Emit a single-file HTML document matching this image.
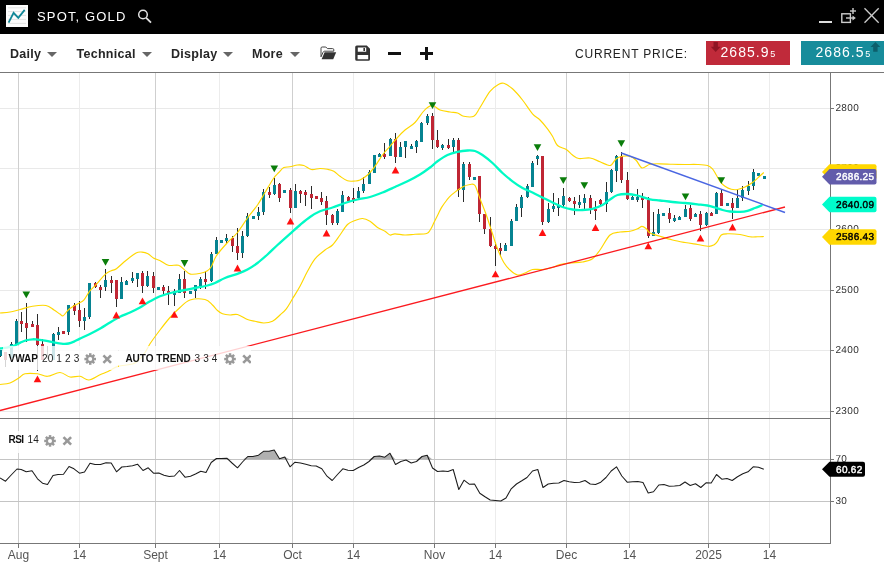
<!DOCTYPE html>
<html lang="en">
<head>
<meta charset="utf-8">
<title>SPOT, GOLD</title>
<style>
html,body{margin:0;padding:0;background:#fff;}
body{width:884px;height:566px;overflow:hidden;position:relative;font-family:"Liberation Sans",Arial,sans-serif;}
#titlebar{position:absolute;left:0;top:0;width:884px;height:34px;background:#000;}
#titlebar .logo{position:absolute;left:6px;top:5px;width:22px;height:22px;}
#titlebar .name{position:absolute;left:37px;top:9px;font-size:13px;line-height:16px;color:#fff;letter-spacing:1.15px;white-space:nowrap;}
#titlebar svg.ic{position:absolute;top:0;}
#toolbar{position:absolute;left:0;top:34px;width:884px;height:38px;background:#fff;border-bottom:1px solid #777;}
.menu{position:absolute;top:12px;font-size:12.5px;line-height:16px;font-weight:bold;color:#262626;letter-spacing:0.28px;white-space:nowrap;}
.caret{position:absolute;top:18px;width:0;height:0;border-left:5px solid transparent;border-right:5px solid transparent;border-top:5.5px solid #666;}
#toolbar svg{position:absolute;left:0;top:0;}
.cp{position:absolute;left:575px;top:12px;font-size:12px;line-height:16px;color:#222;letter-spacing:0.8px;white-space:nowrap;}
.btn{position:absolute;top:7px;height:24px;color:#fff;font-size:14px;line-height:22px;letter-spacing:1.05px;white-space:nowrap;}
.btn small{font-size:9px;letter-spacing:0;margin-left:0.6px;}
#sell{left:706px;width:84px;background:#c02a3a;}
#buy{left:801px;width:83px;background:#178c9b;}
.btn span{position:absolute;top:0;}
#chart{position:absolute;left:0;top:0;width:884px;height:566px;}
.legend{position:absolute;background:rgba(255,255,255,0.8);font-size:10px;line-height:12px;color:#222;white-space:nowrap;}
.legend span{position:absolute;}
.legend .lb{font-weight:bold;color:#111;}
.legend .lp{letter-spacing:0.15px;color:#222;}
</style>
</head>
<body>
<svg id="chart" width="884" height="566" viewBox="0 0 884 566">
<g shape-rendering="crispEdges">
<rect x="0" y="108" width="830" height="1" fill="#e9e9e9"/>
<rect x="0" y="168" width="830" height="1" fill="#e9e9e9"/>
<rect x="0" y="229" width="830" height="1" fill="#e9e9e9"/>
<rect x="0" y="290" width="830" height="1" fill="#e9e9e9"/>
<rect x="0" y="350" width="830" height="1" fill="#e9e9e9"/>
<rect x="0" y="411" width="830" height="1" fill="#e9e9e9"/>
<rect x="79" y="73" width="1" height="470" fill="#ececec"/>
<rect x="219" y="73" width="1" height="470" fill="#ececec"/>
<rect x="353" y="73" width="1" height="470" fill="#ececec"/>
<rect x="495" y="73" width="1" height="470" fill="#ececec"/>
<rect x="629" y="73" width="1" height="470" fill="#ececec"/>
<rect x="769" y="73" width="1" height="470" fill="#ececec"/>
<rect x="18" y="73" width="1" height="470" fill="#cfcfcf"/>
<rect x="155" y="73" width="1" height="470" fill="#cfcfcf"/>
<rect x="292" y="73" width="1" height="470" fill="#cfcfcf"/>
<rect x="434" y="73" width="1" height="470" fill="#cfcfcf"/>
<rect x="566" y="73" width="1" height="470" fill="#cfcfcf"/>
<rect x="708" y="73" width="1" height="470" fill="#cfcfcf"/>
<rect x="0" y="459" width="830" height="1" fill="#c4c4c4"/>
<rect x="0" y="501" width="830" height="1" fill="#c4c4c4"/>
</g>
<polygon points="0,459.5 0,459.5 5.5,459.5 11.2,459.5 17,459.5 21.2,459.5 26.2,459.5 32,459.5 37.5,459.5 42.5,459.5 47.5,459.5 53,459.5 58,459.5 63.5,459.5 69,459.5 74,459.5 79.5,459.5 84.5,459.5 90,459.5 95,459.5 100.5,459.5 106,459.5 111.2,459.5 116.5,459.5 121.8,459.5 127,459.5 132.5,459.5 137.5,459.5 143,459.5 148.2,459.5 153.5,459.5 158.8,459.5 164,459.5 169.2,459.5 174.5,459.5 179.5,459.5 185,459.5 190.5,459.5 195.5,459.5 200.8,459.5 206,459.5 211.2,459.5 216.5,458.5 221.2,458.5 226.8,458.2 232,459.5 237.5,459.5 242.5,459.5 247.8,456.5 253,456.5 258.5,455.2 263.8,451.2 269,451.2 274.2,450 279.5,458.8 284.8,457 290,459.5 295,459.5 300.5,459.5 305.8,459.5 311.2,459.5 316.2,459.5 321.8,459.5 327,459.5 332.2,459.5 337.5,459.5 342.8,459.5 348,459.5 353.2,459.5 358.5,459.5 363.8,459.5 369,459.5 374.2,456.5 379.5,456 384.8,457.2 390,453.2 395.5,459.5 400.8,459.5 406,459.5 411.2,459.5 416.5,459.5 422,456.5 427.2,455.2 432.5,459.5 437.5,459.5 443,459.5 448,459.5 453.2,459.5 458.8,459.5 464,459.5 469.2,459.5 474.5,459.5 479.8,459.5 485,459.5 490.2,459.5 495.5,459.5 500.8,459.5 506,459.5 511.2,459.5 516.5,459.5 521.8,459.5 527,459.5 532.5,459.5 537.8,459.5 543,459.5 548.2,459.5 553.5,459.5 558.8,459.5 564,459.5 569.2,459.5 574.5,459.5 579.8,459.5 585,459.5 590.2,459.5 595.5,459.5 600.8,459.5 606,459.5 611.2,459.5 616.5,459.5 621.8,459.5 627.2,459.5 632.5,459.5 637.8,459.5 643,459.5 648.2,459.5 653.5,459.5 658.8,459.5 664,459.5 669.2,459.5 674.5,459.5 679.8,459.5 685,459.5 690.2,459.5 695.5,459.5 700.8,459.5 706,459.5 711.2,459.5 716.5,459.5 721.8,459.5 727,459.5 732.2,459.5 737.5,459.5 742.8,459.5 748,459.5 753.2,459.5 758.5,459.5 763.8,459.5 763.8,459.5" fill="#b0b0b0"/>
<polyline points="0,478 5.5,481.2 11.2,475 17,469 21.2,469.5 26.2,471.8 32,470.8 37.5,478.8 42.5,483.2 47.5,484.5 53,475.5 58,474.5 63.5,474.2 69,466.5 74,468.8 79.5,473.2 84.5,472 90,463.2 95,464.5 100.5,464.5 106,462.8 111.2,463 116.5,471.8 121.8,467 127,466.5 132.5,465.8 137.5,464.2 143,470.5 148.2,467.8 153.5,473.2 158.8,473 164,475.2 169.2,476.5 174.5,476 179.5,470.5 185,477.2 190.5,476.2 195.5,474 200.8,471.2 206,472.5 211.2,462.5 216.5,458.5 221.2,458.5 226.8,458.2 232,463 237.5,467.8 242.5,462 247.8,456.5 253,456.5 258.5,455.2 263.8,451.2 269,451.2 274.2,450 279.5,458.8 284.8,457 290,466.8 295,462.2 300.5,463 305.8,464.2 311.2,465.8 316.2,466 321.8,468.8 327,476.2 332.2,480.5 337.5,474.5 342.8,468.8 348,470.2 353.2,470.5 358.5,467.5 363.8,465 369,461.5 374.2,456.5 379.5,456 384.8,457.2 390,453.2 395.5,464.5 400.8,461.5 406,460 411.2,463 416.5,461.5 422,456.5 427.2,455.2 432.5,468 437.5,471.5 443,471 448,471.5 453.2,469.5 458.8,489.5 464,480.2 469.2,484.2 474.5,484 479.8,493.2 485,496.8 490.2,500 495.5,500.5 500.8,501 506,498 511.2,488.8 516.5,484 521.8,480.8 527,477.5 532.5,471 537.8,469.5 543,487.5 548.2,484 553.5,483.2 558.8,483 564,480.5 569.2,481.8 574.5,482.5 579.8,482.2 585,480.5 590.2,484 595.5,484.5 600.8,482.2 606,477.5 611.2,471 616.5,466.8 621.8,476 627.2,482.2 632.5,481.8 637.8,481.5 643,482.5 648.2,493 653.5,491.8 658.8,485 664,484.5 669.2,486.2 674.5,486 679.8,485.5 685,482 690.2,485.5 695.5,483.8 700.8,487.5 706,482.8 711.2,483 716.5,474.5 721.8,479.2 727,478.5 732.2,480.5 737.5,476.8 742.8,473.8 748,471.8 753.2,466.8 758.5,467.2 763.8,469.2" fill="none" stroke="#1c1c1c" stroke-width="1.05" stroke-linejoin="round"/>
<g shape-rendering="crispEdges">
<rect x="0" y="350" width="1" height="7" fill="#2b2b2b"/>
<rect x="-1" y="350" width="3" height="6" fill="#068391"/>
<rect x="5" y="352" width="1" height="15" fill="#2b2b2b"/>
<rect x="4" y="352" width="3" height="8" fill="#bf2634"/>
<rect x="11" y="342" width="1" height="16" fill="#2b2b2b"/>
<rect x="10" y="344" width="3" height="14" fill="#068391"/>
<rect x="16" y="319" width="1" height="26" fill="#2b2b2b"/>
<rect x="15" y="321" width="3" height="24" fill="#068391"/>
<rect x="21" y="312" width="1" height="20" fill="#2b2b2b"/>
<rect x="20" y="321" width="3" height="3" fill="#bf2634"/>
<rect x="26" y="303" width="1" height="39" fill="#2b2b2b"/>
<rect x="25" y="323" width="3" height="5" fill="#bf2634"/>
<rect x="32" y="321" width="1" height="6" fill="#2b2b2b"/>
<rect x="31" y="324" width="3" height="3" fill="#bf2634"/>
<rect x="37" y="314" width="1" height="57" fill="#2b2b2b"/>
<rect x="36" y="325" width="3" height="20" fill="#bf2634"/>
<rect x="42" y="339" width="1" height="21" fill="#2b2b2b"/>
<rect x="41" y="344" width="3" height="16" fill="#bf2634"/>
<rect x="47" y="346" width="1" height="13" fill="#2b2b2b"/>
<rect x="53" y="333" width="1" height="27" fill="#2b2b2b"/>
<rect x="52" y="334" width="3" height="26" fill="#068391"/>
<rect x="58" y="327" width="1" height="13" fill="#2b2b2b"/>
<rect x="57" y="332" width="3" height="3" fill="#068391"/>
<rect x="63" y="331" width="1" height="3" fill="#2b2b2b"/>
<rect x="62" y="331" width="3" height="3" fill="#bf2634"/>
<rect x="68" y="305" width="1" height="30" fill="#2b2b2b"/>
<rect x="67" y="305" width="3" height="27" fill="#068391"/>
<rect x="74" y="303" width="1" height="12" fill="#2b2b2b"/>
<rect x="73" y="305" width="3" height="6" fill="#bf2634"/>
<rect x="79" y="301" width="1" height="26" fill="#2b2b2b"/>
<rect x="78" y="310" width="3" height="11" fill="#bf2634"/>
<rect x="84" y="308" width="1" height="22" fill="#2b2b2b"/>
<rect x="83" y="317" width="3" height="4" fill="#068391"/>
<rect x="89" y="283" width="1" height="36" fill="#2b2b2b"/>
<rect x="88" y="283" width="3" height="34" fill="#068391"/>
<rect x="95" y="282" width="1" height="6" fill="#2b2b2b"/>
<rect x="94" y="283" width="3" height="4" fill="#bf2634"/>
<rect x="100" y="285" width="1" height="13" fill="#2b2b2b"/>
<rect x="99" y="287" width="3" height="3" fill="#bf2634"/>
<rect x="105" y="269" width="1" height="22" fill="#2b2b2b"/>
<rect x="104" y="280" width="3" height="7" fill="#068391"/>
<rect x="111" y="276" width="1" height="17" fill="#2b2b2b"/>
<rect x="110" y="280" width="3" height="3" fill="#bf2634"/>
<rect x="116" y="280" width="1" height="27" fill="#2b2b2b"/>
<rect x="115" y="280" width="3" height="19" fill="#bf2634"/>
<rect x="121" y="277" width="1" height="22" fill="#2b2b2b"/>
<rect x="120" y="282" width="3" height="17" fill="#068391"/>
<rect x="126" y="280" width="1" height="5" fill="#2b2b2b"/>
<rect x="125" y="281" width="3" height="4" fill="#068391"/>
<rect x="132" y="272" width="1" height="11" fill="#2b2b2b"/>
<rect x="131" y="278" width="3" height="3" fill="#068391"/>
<rect x="137" y="273" width="1" height="14" fill="#2b2b2b"/>
<rect x="136" y="273" width="3" height="6" fill="#068391"/>
<rect x="142" y="271" width="1" height="22" fill="#2b2b2b"/>
<rect x="141" y="273" width="3" height="13" fill="#bf2634"/>
<rect x="147" y="271" width="1" height="16" fill="#2b2b2b"/>
<rect x="146" y="276" width="3" height="10" fill="#068391"/>
<rect x="153" y="272" width="1" height="21" fill="#2b2b2b"/>
<rect x="152" y="276" width="3" height="12" fill="#bf2634"/>
<rect x="158" y="287" width="1" height="3" fill="#2b2b2b"/>
<rect x="157" y="287" width="3" height="3" fill="#068391"/>
<rect x="163" y="285" width="1" height="9" fill="#2b2b2b"/>
<rect x="162" y="287" width="3" height="4" fill="#bf2634"/>
<rect x="168" y="286" width="1" height="19" fill="#2b2b2b"/>
<rect x="167" y="291" width="3" height="2" fill="#bf2634"/>
<rect x="174" y="289" width="1" height="17" fill="#2b2b2b"/>
<rect x="173" y="291" width="3" height="4" fill="#068391"/>
<rect x="179" y="274" width="1" height="19" fill="#2b2b2b"/>
<rect x="178" y="279" width="3" height="14" fill="#068391"/>
<rect x="184" y="271" width="1" height="27" fill="#2b2b2b"/>
<rect x="183" y="279" width="3" height="14" fill="#bf2634"/>
<rect x="190" y="291" width="1" height="3" fill="#2b2b2b"/>
<rect x="189" y="291" width="3" height="3" fill="#068391"/>
<rect x="195" y="285" width="1" height="13" fill="#2b2b2b"/>
<rect x="194" y="285" width="3" height="6" fill="#068391"/>
<rect x="200" y="277" width="1" height="12" fill="#2b2b2b"/>
<rect x="199" y="279" width="3" height="7" fill="#068391"/>
<rect x="205" y="271" width="1" height="18" fill="#2b2b2b"/>
<rect x="204" y="279" width="3" height="3" fill="#bf2634"/>
<rect x="211" y="252" width="1" height="30" fill="#2b2b2b"/>
<rect x="210" y="254" width="3" height="27" fill="#068391"/>
<rect x="216" y="237" width="1" height="17" fill="#2b2b2b"/>
<rect x="215" y="240" width="3" height="14" fill="#068391"/>
<rect x="221" y="240" width="1" height="3" fill="#2b2b2b"/>
<rect x="220" y="240" width="3" height="3" fill="#068391"/>
<rect x="226" y="234" width="1" height="9" fill="#2b2b2b"/>
<rect x="225" y="238" width="3" height="3" fill="#068391"/>
<rect x="232" y="236" width="1" height="16" fill="#2b2b2b"/>
<rect x="231" y="238" width="3" height="8" fill="#bf2634"/>
<rect x="237" y="228" width="1" height="32" fill="#2b2b2b"/>
<rect x="236" y="246" width="3" height="7" fill="#bf2634"/>
<rect x="242" y="231" width="1" height="27" fill="#2b2b2b"/>
<rect x="241" y="236" width="3" height="17" fill="#068391"/>
<rect x="247" y="213" width="1" height="24" fill="#2b2b2b"/>
<rect x="246" y="216" width="3" height="20" fill="#068391"/>
<rect x="253" y="216" width="1" height="3" fill="#2b2b2b"/>
<rect x="252" y="216" width="3" height="3" fill="#068391"/>
<rect x="258" y="207" width="1" height="13" fill="#2b2b2b"/>
<rect x="257" y="212" width="3" height="4" fill="#068391"/>
<rect x="263" y="189" width="1" height="26" fill="#2b2b2b"/>
<rect x="262" y="192" width="3" height="20" fill="#068391"/>
<rect x="269" y="187" width="1" height="11" fill="#2b2b2b"/>
<rect x="268" y="192" width="3" height="3" fill="#bf2634"/>
<rect x="274" y="178" width="1" height="17" fill="#2b2b2b"/>
<rect x="273" y="185" width="3" height="9" fill="#068391"/>
<rect x="279" y="183" width="1" height="19" fill="#2b2b2b"/>
<rect x="278" y="184" width="3" height="14" fill="#bf2634"/>
<rect x="284" y="190" width="1" height="3" fill="#2b2b2b"/>
<rect x="283" y="190" width="3" height="3" fill="#068391"/>
<rect x="290" y="188" width="1" height="25" fill="#2b2b2b"/>
<rect x="289" y="190" width="3" height="18" fill="#bf2634"/>
<rect x="295" y="184" width="1" height="24" fill="#2b2b2b"/>
<rect x="294" y="191" width="3" height="17" fill="#068391"/>
<rect x="300" y="190" width="1" height="13" fill="#2b2b2b"/>
<rect x="299" y="191" width="3" height="3" fill="#bf2634"/>
<rect x="305" y="190" width="1" height="16" fill="#2b2b2b"/>
<rect x="304" y="192" width="3" height="3" fill="#bf2634"/>
<rect x="311" y="186" width="1" height="23" fill="#2b2b2b"/>
<rect x="310" y="194" width="3" height="4" fill="#bf2634"/>
<rect x="316" y="196" width="1" height="3" fill="#2b2b2b"/>
<rect x="315" y="196" width="3" height="3" fill="#bf2634"/>
<rect x="321" y="192" width="1" height="13" fill="#2b2b2b"/>
<rect x="320" y="198" width="3" height="4" fill="#bf2634"/>
<rect x="326" y="196" width="1" height="29" fill="#2b2b2b"/>
<rect x="325" y="201" width="3" height="14" fill="#bf2634"/>
<rect x="332" y="214" width="1" height="11" fill="#2b2b2b"/>
<rect x="331" y="215" width="3" height="8" fill="#bf2634"/>
<rect x="337" y="209" width="1" height="16" fill="#2b2b2b"/>
<rect x="336" y="211" width="3" height="12" fill="#068391"/>
<rect x="342" y="191" width="1" height="21" fill="#2b2b2b"/>
<rect x="341" y="195" width="3" height="17" fill="#068391"/>
<rect x="348" y="196" width="1" height="5" fill="#2b2b2b"/>
<rect x="347" y="197" width="3" height="4" fill="#bf2634"/>
<rect x="353" y="188" width="1" height="15" fill="#2b2b2b"/>
<rect x="352" y="198" width="3" height="3" fill="#bf2634"/>
<rect x="358" y="187" width="1" height="12" fill="#2b2b2b"/>
<rect x="357" y="191" width="3" height="7" fill="#068391"/>
<rect x="363" y="177" width="1" height="16" fill="#2b2b2b"/>
<rect x="362" y="184" width="3" height="7" fill="#068391"/>
<rect x="369" y="170" width="1" height="14" fill="#2b2b2b"/>
<rect x="368" y="172" width="3" height="12" fill="#068391"/>
<rect x="374" y="155" width="1" height="18" fill="#2b2b2b"/>
<rect x="373" y="155" width="3" height="18" fill="#068391"/>
<rect x="379" y="153" width="1" height="4" fill="#2b2b2b"/>
<rect x="378" y="154" width="3" height="3" fill="#068391"/>
<rect x="384" y="143" width="1" height="16" fill="#2b2b2b"/>
<rect x="383" y="154" width="3" height="3" fill="#bf2634"/>
<rect x="390" y="138" width="1" height="18" fill="#2b2b2b"/>
<rect x="389" y="139" width="3" height="17" fill="#068391"/>
<rect x="395" y="133" width="1" height="30" fill="#2b2b2b"/>
<rect x="394" y="139" width="3" height="18" fill="#bf2634"/>
<rect x="400" y="142" width="1" height="15" fill="#2b2b2b"/>
<rect x="399" y="147" width="3" height="10" fill="#068391"/>
<rect x="405" y="141" width="1" height="17" fill="#2b2b2b"/>
<rect x="404" y="141" width="3" height="6" fill="#068391"/>
<rect x="411" y="144" width="1" height="5" fill="#2b2b2b"/>
<rect x="410" y="146" width="3" height="3" fill="#068391"/>
<rect x="416" y="140" width="1" height="13" fill="#2b2b2b"/>
<rect x="415" y="141" width="3" height="6" fill="#068391"/>
<rect x="421" y="122" width="1" height="20" fill="#2b2b2b"/>
<rect x="420" y="123" width="3" height="19" fill="#068391"/>
<rect x="427" y="114" width="1" height="11" fill="#2b2b2b"/>
<rect x="426" y="116" width="3" height="7" fill="#068391"/>
<rect x="432" y="113" width="1" height="36" fill="#2b2b2b"/>
<rect x="431" y="116" width="3" height="24" fill="#bf2634"/>
<rect x="437" y="130" width="1" height="18" fill="#2b2b2b"/>
<rect x="436" y="140" width="3" height="7" fill="#bf2634"/>
<rect x="442" y="144" width="1" height="6" fill="#2b2b2b"/>
<rect x="441" y="145" width="3" height="3" fill="#068391"/>
<rect x="448" y="139" width="1" height="10" fill="#2b2b2b"/>
<rect x="447" y="145" width="3" height="3" fill="#bf2634"/>
<rect x="453" y="138" width="1" height="15" fill="#2b2b2b"/>
<rect x="452" y="140" width="3" height="7" fill="#068391"/>
<rect x="458" y="138" width="1" height="59" fill="#2b2b2b"/>
<rect x="457" y="140" width="3" height="50" fill="#bf2634"/>
<rect x="463" y="162" width="1" height="40" fill="#2b2b2b"/>
<rect x="462" y="164" width="3" height="26" fill="#068391"/>
<rect x="469" y="162" width="1" height="18" fill="#2b2b2b"/>
<rect x="468" y="164" width="3" height="13" fill="#bf2634"/>
<rect x="474" y="177" width="1" height="3" fill="#2b2b2b"/>
<rect x="473" y="177" width="3" height="3" fill="#068391"/>
<rect x="479" y="176" width="1" height="46" fill="#2b2b2b"/>
<rect x="478" y="176" width="3" height="38" fill="#bf2634"/>
<rect x="484" y="214" width="1" height="20" fill="#2b2b2b"/>
<rect x="483" y="214" width="3" height="15" fill="#bf2634"/>
<rect x="490" y="217" width="1" height="30" fill="#2b2b2b"/>
<rect x="489" y="229" width="3" height="17" fill="#bf2634"/>
<rect x="495" y="242" width="1" height="24" fill="#2b2b2b"/>
<rect x="494" y="246" width="3" height="3" fill="#bf2634"/>
<rect x="500" y="243" width="1" height="13" fill="#2b2b2b"/>
<rect x="499" y="248" width="3" height="3" fill="#bf2634"/>
<rect x="505" y="243" width="1" height="8" fill="#2b2b2b"/>
<rect x="504" y="245" width="3" height="6" fill="#068391"/>
<rect x="511" y="219" width="1" height="27" fill="#2b2b2b"/>
<rect x="510" y="221" width="3" height="25" fill="#068391"/>
<rect x="516" y="204" width="1" height="17" fill="#2b2b2b"/>
<rect x="515" y="207" width="3" height="14" fill="#068391"/>
<rect x="521" y="195" width="1" height="22" fill="#2b2b2b"/>
<rect x="520" y="197" width="3" height="11" fill="#068391"/>
<rect x="527" y="184" width="1" height="14" fill="#2b2b2b"/>
<rect x="526" y="186" width="3" height="11" fill="#068391"/>
<rect x="532" y="161" width="1" height="26" fill="#2b2b2b"/>
<rect x="531" y="163" width="3" height="24" fill="#068391"/>
<rect x="537" y="155" width="1" height="10" fill="#2b2b2b"/>
<rect x="536" y="156" width="3" height="3" fill="#068391"/>
<rect x="542" y="156" width="1" height="69" fill="#2b2b2b"/>
<rect x="541" y="156" width="3" height="66" fill="#bf2634"/>
<rect x="548" y="203" width="1" height="20" fill="#2b2b2b"/>
<rect x="547" y="209" width="3" height="13" fill="#068391"/>
<rect x="553" y="193" width="1" height="19" fill="#2b2b2b"/>
<rect x="552" y="206" width="3" height="3" fill="#068391"/>
<rect x="558" y="198" width="1" height="18" fill="#2b2b2b"/>
<rect x="557" y="205" width="3" height="3" fill="#068391"/>
<rect x="563" y="188" width="1" height="20" fill="#2b2b2b"/>
<rect x="562" y="196" width="3" height="9" fill="#068391"/>
<rect x="569" y="197" width="1" height="5" fill="#2b2b2b"/>
<rect x="568" y="198" width="3" height="3" fill="#bf2634"/>
<rect x="574" y="197" width="1" height="18" fill="#2b2b2b"/>
<rect x="573" y="201" width="3" height="3" fill="#bf2634"/>
<rect x="579" y="195" width="1" height="13" fill="#2b2b2b"/>
<rect x="578" y="202" width="3" height="3" fill="#068391"/>
<rect x="584" y="194" width="1" height="15" fill="#2b2b2b"/>
<rect x="583" y="198" width="3" height="5" fill="#068391"/>
<rect x="590" y="195" width="1" height="19" fill="#2b2b2b"/>
<rect x="589" y="198" width="3" height="10" fill="#bf2634"/>
<rect x="595" y="201" width="1" height="19" fill="#2b2b2b"/>
<rect x="594" y="209" width="3" height="2" fill="#bf2634"/>
<rect x="600" y="199" width="1" height="6" fill="#2b2b2b"/>
<rect x="599" y="200" width="3" height="4" fill="#bf2634"/>
<rect x="606" y="182" width="1" height="30" fill="#2b2b2b"/>
<rect x="605" y="192" width="3" height="12" fill="#068391"/>
<rect x="611" y="169" width="1" height="24" fill="#2b2b2b"/>
<rect x="610" y="170" width="3" height="22" fill="#068391"/>
<rect x="616" y="155" width="1" height="27" fill="#2b2b2b"/>
<rect x="615" y="156" width="3" height="15" fill="#068391"/>
<rect x="621" y="152" width="1" height="31" fill="#2b2b2b"/>
<rect x="620" y="156" width="3" height="24" fill="#bf2634"/>
<rect x="627" y="172" width="1" height="28" fill="#2b2b2b"/>
<rect x="626" y="180" width="3" height="19" fill="#bf2634"/>
<rect x="632" y="196" width="1" height="4" fill="#2b2b2b"/>
<rect x="631" y="197" width="3" height="3" fill="#068391"/>
<rect x="637" y="189" width="1" height="13" fill="#2b2b2b"/>
<rect x="636" y="197" width="3" height="3" fill="#068391"/>
<rect x="642" y="193" width="1" height="15" fill="#2b2b2b"/>
<rect x="641" y="197" width="3" height="3" fill="#bf2634"/>
<rect x="648" y="197" width="1" height="41" fill="#2b2b2b"/>
<rect x="647" y="200" width="3" height="36" fill="#bf2634"/>
<rect x="653" y="212" width="1" height="24" fill="#2b2b2b"/>
<rect x="652" y="232" width="3" height="4" fill="#068391"/>
<rect x="658" y="209" width="1" height="25" fill="#2b2b2b"/>
<rect x="657" y="214" width="3" height="19" fill="#068391"/>
<rect x="663" y="213" width="1" height="3" fill="#2b2b2b"/>
<rect x="662" y="213" width="3" height="3" fill="#068391"/>
<rect x="669" y="208" width="1" height="15" fill="#2b2b2b"/>
<rect x="668" y="213" width="3" height="6" fill="#bf2634"/>
<rect x="674" y="215" width="1" height="7" fill="#2b2b2b"/>
<rect x="673" y="218" width="3" height="3" fill="#068391"/>
<rect x="679" y="216" width="1" height="4" fill="#2b2b2b"/>
<rect x="678" y="217" width="3" height="3" fill="#068391"/>
<rect x="685" y="205" width="1" height="12" fill="#2b2b2b"/>
<rect x="684" y="209" width="3" height="8" fill="#068391"/>
<rect x="690" y="205" width="1" height="16" fill="#2b2b2b"/>
<rect x="689" y="208" width="3" height="11" fill="#bf2634"/>
<rect x="695" y="213" width="1" height="4" fill="#2b2b2b"/>
<rect x="694" y="214" width="3" height="3" fill="#068391"/>
<rect x="700" y="211" width="1" height="20" fill="#2b2b2b"/>
<rect x="699" y="214" width="3" height="11" fill="#bf2634"/>
<rect x="706" y="212" width="1" height="14" fill="#2b2b2b"/>
<rect x="705" y="213" width="3" height="12" fill="#068391"/>
<rect x="711" y="212" width="1" height="4" fill="#2b2b2b"/>
<rect x="710" y="213" width="3" height="3" fill="#bf2634"/>
<rect x="716" y="192" width="1" height="22" fill="#2b2b2b"/>
<rect x="715" y="193" width="3" height="21" fill="#068391"/>
<rect x="721" y="190" width="1" height="16" fill="#2b2b2b"/>
<rect x="720" y="193" width="3" height="13" fill="#bf2634"/>
<rect x="727" y="203" width="1" height="3" fill="#2b2b2b"/>
<rect x="726" y="203" width="3" height="3" fill="#068391"/>
<rect x="732" y="198" width="1" height="21" fill="#2b2b2b"/>
<rect x="731" y="203" width="3" height="5" fill="#bf2634"/>
<rect x="737" y="190" width="1" height="18" fill="#2b2b2b"/>
<rect x="736" y="198" width="3" height="10" fill="#068391"/>
<rect x="742" y="186" width="1" height="15" fill="#2b2b2b"/>
<rect x="741" y="190" width="3" height="8" fill="#068391"/>
<rect x="748" y="181" width="1" height="14" fill="#2b2b2b"/>
<rect x="747" y="186" width="3" height="5" fill="#068391"/>
<rect x="753" y="169" width="1" height="21" fill="#2b2b2b"/>
<rect x="752" y="172" width="3" height="14" fill="#068391"/>
<rect x="758" y="173" width="1" height="3" fill="#2b2b2b"/>
<rect x="757" y="173" width="3" height="3" fill="#068391"/>
<rect x="764" y="176" width="1" height="3" fill="#2b2b2b"/>
<rect x="763" y="176" width="3" height="3" fill="#068391"/>
</g>
<path d="M0,313 C1.67,312.83 6.67,312.58 10,312 C13.33,311.42 16.25,310.45 20,309.5 C23.75,308.55 28.17,306.97 32.5,306.3 C36.83,305.63 42.42,304.88 46,305.5 C49.58,306.12 51.67,308.57 54,310 C56.33,311.43 58.48,313.13 60,314.1 C61.52,315.07 61.68,316.53 63.1,315.8 C64.52,315.07 66.63,311.40 68.5,309.7 C70.37,308.00 72.50,306.73 74.3,305.6 C76.10,304.47 77.72,303.80 79.3,302.9 C80.88,302.00 82.10,302.12 83.8,300.2 C85.50,298.28 87.57,293.88 89.5,291.4 C91.43,288.92 92.73,288.18 95.4,285.3 C98.07,282.42 102.85,276.53 105.5,274.1 C108.15,271.67 109.48,271.60 111.3,270.7 C113.12,269.80 113.97,270.40 116.4,268.7 C118.83,267.00 122.62,263.13 125.9,260.5 C129.18,257.87 133.42,254.30 136.1,252.9 C138.78,251.50 140.02,251.95 142,252.1 C143.98,252.25 146.10,252.82 148,253.8 C149.90,254.78 151.43,256.88 153.4,258 C155.37,259.12 157.32,259.28 159.8,260.5 C162.28,261.72 165.18,264.50 168.3,265.3 C171.42,266.10 175.80,264.53 178.5,265.3 C181.20,266.07 182.52,268.43 184.5,269.9 C186.48,271.37 187.72,273.53 190.4,274.1 C193.08,274.67 197.77,273.87 200.6,273.3 C203.43,272.73 205.60,271.83 207.4,270.7 C209.20,269.57 209.90,268.98 211.4,266.5 C212.90,264.02 213.72,259.80 216.4,255.8 C219.08,251.80 223.98,246.38 227.5,242.5 C231.02,238.62 234.17,236.58 237.5,232.5 C240.83,228.42 244.17,222.58 247.5,218 C250.83,213.42 254.58,209.25 257.5,205 C260.42,200.75 262.28,197.00 265,192.5 C267.72,188.00 271.50,181.33 273.8,178 C276.10,174.67 277.13,174.25 278.8,172.5 C280.47,170.75 281.93,168.45 283.8,167.5 C285.67,166.55 287.72,167.22 290,166.8 C292.28,166.38 295.20,165.22 297.5,165 C299.80,164.78 301.50,164.75 303.8,165.5 C306.10,166.25 308.60,169.00 311.3,169.5 C314.00,170.00 317.30,168.53 320,168.5 C322.70,168.47 325.20,168.83 327.5,169.3 C329.80,169.77 331.72,170.13 333.8,171.3 C335.88,172.47 337.72,174.72 340,176.3 C342.28,177.88 345.00,180.02 347.5,180.8 C350.00,181.58 352.92,181.13 355,181 C357.08,180.87 357.92,181.00 360,180 C362.08,179.00 365.00,177.28 367.5,175 C370.00,172.72 372.50,169.63 375,166.3 C377.50,162.97 380.00,158.33 382.5,155 C385.00,151.67 387.50,149.22 390,146.3 C392.50,143.38 395.00,140.22 397.5,137.5 C400.00,134.78 402.08,132.50 405,130 C407.92,127.50 412.08,125.42 415,122.5 C417.92,119.58 420.42,115.00 422.5,112.5 C424.58,110.00 425.75,108.67 427.5,107.5 C429.25,106.33 430.92,105.08 433,105.5 C435.08,105.92 437.17,108.92 440,110 C442.83,111.08 447.08,111.50 450,112 C452.92,112.50 455.20,112.28 457.5,113 C459.80,113.72 461.08,115.75 463.8,116.3 C466.52,116.85 471.10,117.77 473.8,116.3 C476.50,114.83 477.30,111.67 480,107.5 C482.70,103.33 486.87,95.17 490,91.3 C493.13,87.43 496.50,85.63 498.8,84.3 C501.10,82.97 501.52,82.55 503.8,83.3 C506.08,84.05 509.38,86.02 512.5,88.8 C515.62,91.58 519.17,95.83 522.5,100 C525.83,104.17 529.58,110.47 532.5,113.8 C535.42,117.13 537.50,117.50 540,120 C542.50,122.50 545.42,126.08 547.5,128.8 C549.58,131.52 550.83,133.52 552.5,136.3 C554.17,139.08 555.20,143.30 557.5,145.5 C559.80,147.70 563.80,147.92 566.3,149.5 C568.80,151.08 570.42,153.50 572.5,155 C574.58,156.50 575.88,158.00 578.8,158.5 C581.72,159.00 586.47,157.45 590,158 C593.53,158.55 597.08,160.63 600,161.8 C602.92,162.97 605.62,164.47 607.5,165 C609.38,165.53 609.83,166.03 611.3,165 C612.77,163.97 614.43,160.25 616.3,158.8 C618.17,157.35 620.22,156.72 622.5,156.3 C624.78,155.88 627.70,155.60 630,156.3 C632.30,157.00 634.30,158.55 636.3,160.5 C638.30,162.45 639.72,167.37 642,168 C644.28,168.63 647.00,165.00 650,164.3 C653.00,163.60 656.25,163.80 660,163.8 C663.75,163.80 668.33,164.18 672.5,164.3 C676.67,164.42 680.83,164.47 685,164.5 C689.17,164.53 693.75,164.33 697.5,164.5 C701.25,164.67 705.00,164.78 707.5,165.5 C710.00,166.22 711.03,167.22 712.5,168.8 C713.97,170.38 715.05,172.92 716.3,175 C717.55,177.08 718.55,179.42 720,181.3 C721.45,183.18 723.12,184.97 725,186.3 C726.88,187.63 729.22,188.77 731.3,189.3 C733.38,189.83 735.22,189.88 737.5,189.5 C739.78,189.12 742.50,188.17 745,187 C747.50,185.83 750.20,184.17 752.5,182.5 C754.80,180.83 756.92,178.67 758.8,177 C760.68,175.33 762.97,173.25 763.8,172.5" fill="none" stroke="#ffd700" stroke-width="1.15" stroke-linejoin="round"/>
<path d="M0,384.5 C1.67,384.25 6.87,384.08 10,383 C13.13,381.92 16.30,379.53 18.8,378 C21.30,376.47 21.88,374.50 25,373.8 C28.12,373.10 33.75,373.38 37.5,373.8 C41.25,374.22 43.75,376.52 47.5,376.3 C51.25,376.08 56.25,372.38 60,372.5 C63.75,372.62 66.67,376.37 70,377 C73.33,377.63 76.87,375.80 80,376.3 C83.13,376.80 85.47,380.25 88.8,380 C92.13,379.75 96.80,376.22 100,374.8 C103.20,373.38 105.00,372.90 108,371.5 C111.00,370.10 113.50,367.82 118,366.4 C122.50,364.98 130.50,365.32 135,363 C139.50,360.68 142.50,355.70 145,352.5 C147.50,349.30 147.50,347.55 150,343.8 C152.50,340.05 156.67,334.38 160,330 C163.33,325.62 166.67,321.25 170,317.5 C173.33,313.75 176.67,310.42 180,307.5 C183.33,304.58 185.83,301.33 190,300 C194.17,298.67 201.25,298.67 205,299.5 C208.75,300.33 210.42,303.17 212.5,305 C214.58,306.83 215.83,309.03 217.5,310.5 C219.17,311.97 220.42,313.05 222.5,313.8 C224.58,314.55 227.50,314.88 230,315 C232.50,315.12 234.58,313.75 237.5,314.5 C240.42,315.25 244.58,318.37 247.5,319.5 C250.42,320.63 252.28,320.72 255,321.3 C257.72,321.88 260.88,323.00 263.8,323 C266.72,323.00 269.80,322.63 272.5,321.3 C275.20,319.97 277.70,317.08 280,315 C282.30,312.92 284.22,311.50 286.3,308.8 C288.38,306.10 290.22,302.55 292.5,298.8 C294.78,295.05 297.50,290.88 300,286.3 C302.50,281.72 305.00,275.88 307.5,271.3 C310.00,266.72 312.08,262.35 315,258.8 C317.92,255.25 322.08,252.30 325,250 C327.92,247.70 330.00,247.50 332.5,245 C335.00,242.50 337.50,238.42 340,235 C342.50,231.58 345.00,226.92 347.5,224.5 C350.00,222.08 352.50,221.50 355,220.5 C357.50,219.50 360.00,218.37 362.5,218.5 C365.00,218.63 367.50,219.80 370,221.3 C372.50,222.80 375.00,225.83 377.5,227.5 C380.00,229.17 382.92,230.05 385,231.3 C387.08,232.55 388.33,234.58 390,235 C391.67,235.42 392.50,233.80 395,233.8 C397.50,233.80 401.67,234.92 405,235 C408.33,235.08 411.38,234.55 415,234.3 C418.62,234.05 424.12,234.30 426.7,233.5 C429.28,232.70 429.27,231.37 430.5,229.5 C431.73,227.63 432.85,224.80 434.1,222.3 C435.35,219.80 436.75,216.98 438,214.5 C439.25,212.02 440.18,209.73 441.6,207.4 C443.02,205.07 444.85,202.58 446.5,200.5 C448.15,198.42 448.83,197.15 451.5,194.9 C454.17,192.65 459.42,188.73 462.5,187 C465.58,185.27 467.92,184.75 470,184.5 C472.08,184.25 473.33,183.12 475,185.5 C476.67,187.88 478.12,193.88 480,198.8 C481.88,203.72 484.22,209.17 486.3,215 C488.38,220.83 490.63,228.17 492.5,233.8 C494.37,239.43 495.62,244.02 497.5,248.8 C499.38,253.58 501.72,258.97 503.8,262.5 C505.88,266.03 507.72,267.92 510,270 C512.28,272.08 515.00,274.50 517.5,275 C520.00,275.50 522.50,273.92 525,273 C527.50,272.08 529.58,270.08 532.5,269.5 C535.42,268.92 539.17,269.83 542.5,269.5 C545.83,269.17 549.58,268.33 552.5,267.5 C555.42,266.67 557.08,265.25 560,264.5 C562.92,263.75 566.25,263.42 570,263 C573.75,262.58 578.75,262.70 582.5,262 C586.25,261.30 589.58,260.80 592.5,258.8 C595.42,256.80 597.08,253.97 600,250 C602.92,246.03 606.67,238.00 610,235 C613.33,232.00 616.67,232.62 620,232 C623.33,231.38 627.08,231.83 630,231.3 C632.92,230.77 635.50,229.63 637.5,228.8 C639.50,227.97 640.53,226.30 642,226.3 C643.47,226.30 644.97,227.68 646.3,228.8 C647.63,229.92 647.72,231.75 650,233 C652.28,234.25 656.25,235.13 660,236.3 C663.75,237.47 668.33,238.97 672.5,240 C676.67,241.03 680.83,241.75 685,242.5 C689.17,243.25 693.53,243.87 697.5,244.5 C701.47,245.13 706.08,246.22 708.8,246.3 C711.52,246.38 712.35,245.83 713.8,245 C715.25,244.17 716.25,242.97 717.5,241.3 C718.75,239.63 719.63,236.25 721.3,235 C722.97,233.75 724.38,233.88 727.5,233.8 C730.62,233.72 736.25,234.00 740,234.5 C743.75,235.00 747.08,236.42 750,236.8 C752.92,237.18 755.20,236.85 757.5,236.8 C759.80,236.75 762.75,236.55 763.8,236.5" fill="none" stroke="#ffd700" stroke-width="1.15" stroke-linejoin="round"/>
<path d="M0,348.5 C1.13,348.35 4.53,348.03 6.8,347.6 C9.07,347.17 11.33,346.73 13.6,345.9 C15.87,345.07 18.33,343.53 20.4,342.6 C22.47,341.67 23.97,340.85 26,340.3 C28.03,339.75 30.68,339.42 32.6,339.3 C34.52,339.18 35.43,339.38 37.5,339.6 C39.57,339.82 42.35,340.13 45,340.6 C47.65,341.07 50.40,341.87 53.4,342.4 C56.40,342.93 60.47,343.62 63,343.8 C65.53,343.98 66.77,343.87 68.6,343.5 C70.43,343.13 72.20,342.37 74,341.6 C75.80,340.83 76.83,340.12 79.4,338.9 C81.97,337.68 85.85,336.07 89.4,334.3 C92.95,332.53 97.27,330.27 100.7,328.3 C104.13,326.33 106.78,324.42 110,322.5 C113.22,320.58 116.67,318.47 120,316.8 C123.33,315.13 126.67,314.05 130,312.5 C133.33,310.95 136.67,309.37 140,307.5 C143.33,305.63 146.67,303.17 150,301.3 C153.33,299.43 156.25,297.77 160,296.3 C163.75,294.83 168.75,293.47 172.5,292.5 C176.25,291.53 178.75,291.25 182.5,290.5 C186.25,289.75 190.83,288.83 195,288 C199.17,287.17 204.17,286.33 207.5,285.5 C210.83,284.67 212.08,284.25 215,283 C217.92,281.75 221.25,279.53 225,278 C228.75,276.47 233.75,275.22 237.5,273.8 C241.25,272.38 244.17,271.30 247.5,269.5 C250.83,267.70 254.17,265.50 257.5,263 C260.83,260.50 264.17,257.50 267.5,254.5 C270.83,251.50 273.75,248.45 277.5,245 C281.25,241.55 286.25,237.13 290,233.8 C293.75,230.47 296.67,227.80 300,225 C303.33,222.20 306.67,219.28 310,217 C313.33,214.72 316.25,212.88 320,211.3 C323.75,209.72 328.33,208.88 332.5,207.5 C336.67,206.12 340.83,204.33 345,203 C349.17,201.67 353.33,200.50 357.5,199.5 C361.67,198.50 365.83,198.17 370,197 C374.17,195.83 378.33,194.17 382.5,192.5 C386.67,190.83 390.83,188.87 395,187 C399.17,185.13 403.33,183.38 407.5,181.3 C411.67,179.22 416.25,176.80 420,174.5 C423.75,172.20 427.08,169.70 430,167.5 C432.92,165.30 434.58,163.38 437.5,161.3 C440.42,159.22 444.17,156.58 447.5,155 C450.83,153.42 454.17,152.55 457.5,151.8 C460.83,151.05 464.58,150.63 467.5,150.5 C470.42,150.37 472.50,150.25 475,151 C477.50,151.75 479.58,153.00 482.5,155 C485.42,157.00 489.17,160.00 492.5,163 C495.83,166.00 499.17,169.95 502.5,173 C505.83,176.05 509.17,178.80 512.5,181.3 C515.83,183.80 519.17,186.13 522.5,188 C525.83,189.87 529.17,190.92 532.5,192.5 C535.83,194.08 539.17,195.83 542.5,197.5 C545.83,199.17 549.17,200.92 552.5,202.5 C555.83,204.08 559.17,205.83 562.5,207 C565.83,208.17 569.17,209.00 572.5,209.5 C575.83,210.00 579.17,210.12 582.5,210 C585.83,209.88 589.17,209.63 592.5,208.8 C595.83,207.97 599.58,206.55 602.5,205 C605.42,203.45 607.50,201.17 610,199.5 C612.50,197.83 614.58,195.92 617.5,195 C620.42,194.08 624.17,193.92 627.5,194 C630.83,194.08 633.75,194.62 637.5,195.5 C641.25,196.38 646.25,198.47 650,199.3 C653.75,200.13 656.25,200.05 660,200.5 C663.75,200.95 668.33,201.58 672.5,202 C676.67,202.42 680.83,202.62 685,203 C689.17,203.38 693.75,203.88 697.5,204.3 C701.25,204.72 704.58,204.97 707.5,205.5 C710.42,206.03 712.50,206.75 715,207.5 C717.50,208.25 720.00,209.33 722.5,210 C725.00,210.67 727.08,211.20 730,211.5 C732.92,211.80 737.08,211.92 740,211.8 C742.92,211.68 745.00,211.43 747.5,210.8 C750.00,210.17 752.50,208.97 755,208 C757.50,207.03 761.25,205.50 762.5,205" fill="none" stroke="#00fac5" stroke-width="2.3" stroke-linejoin="round" stroke-linecap="butt"/>
<line x1="0" y1="410.5" x2="785" y2="207" stroke="#fb1a1f" stroke-width="1.3"/>
<line x1="621.3" y1="153" x2="785" y2="212.5" stroke="#4a66e2" stroke-width="1.4"/>
<polygon points="22.5,291.5 30.1,291.5 26.3,298.3" fill="#0a7d0a"/>
<polygon points="101.7,258.9 109.3,258.9 105.5,265.7" fill="#0a7d0a"/>
<polygon points="180.7,260.1 188.3,260.1 184.5,266.9" fill="#0a7d0a"/>
<polygon points="270.5,165.5 278.1,165.5 274.3,172.3" fill="#0a7d0a"/>
<polygon points="428.7,102.2 436.3,102.2 432.5,109" fill="#0a7d0a"/>
<polygon points="533.7,144.2 541.3,144.2 537.5,151" fill="#0a7d0a"/>
<polygon points="559.5,177.2 567.1,177.2 563.3,184" fill="#0a7d0a"/>
<polygon points="580.5,182.2 588.1,182.2 584.3,189" fill="#0a7d0a"/>
<polygon points="617.5,140.2 625.1,140.2 621.3,147" fill="#0a7d0a"/>
<polygon points="681.7,193.5 689.3,193.5 685.5,200.3" fill="#0a7d0a"/>
<polygon points="717.5,177.2 725.1,177.2 721.3,184" fill="#0a7d0a"/>
<polygon points="33.7,382.2 41.3,382.2 37.5,375.4" fill="#ff1010"/>
<polygon points="112.5,318.4 120.1,318.4 116.3,311.6" fill="#ff1010"/>
<polygon points="138.7,304.2 146.3,304.2 142.5,297.4" fill="#ff1010"/>
<polygon points="170.5,317.7 178.1,317.7 174.3,310.9" fill="#ff1010"/>
<polygon points="233.7,271.4 241.3,271.4 237.5,264.6" fill="#ff1010"/>
<polygon points="286.7,224.4 294.3,224.4 290.5,217.6" fill="#ff1010"/>
<polygon points="322.7,236.4 330.3,236.4 326.5,229.6" fill="#ff1010"/>
<polygon points="391.7,173.4 399.3,173.4 395.5,166.6" fill="#ff1010"/>
<polygon points="491.7,277.2 499.3,277.2 495.5,270.4" fill="#ff1010"/>
<polygon points="538.7,235.9 546.3,235.9 542.5,229.1" fill="#ff1010"/>
<polygon points="591.7,230.9 599.3,230.9 595.5,224.1" fill="#ff1010"/>
<polygon points="644.5,249.2 652.1,249.2 648.3,242.4" fill="#ff1010"/>
<polygon points="696.7,241.4 704.3,241.4 700.5,234.6" fill="#ff1010"/>
<polygon points="728.7,230.4 736.3,230.4 732.5,223.6" fill="#ff1010"/>
<g shape-rendering="crispEdges">
<rect x="0" y="418" width="830" height="1" fill="#777"/>
<rect x="0" y="543" width="831" height="1" fill="#777"/>
<rect x="830" y="73" width="1" height="471" fill="#777"/>
<rect x="831" y="108" width="3" height="1" fill="#777"/>
<rect x="831" y="168" width="3" height="1" fill="#777"/>
<rect x="831" y="229" width="3" height="1" fill="#777"/>
<rect x="831" y="290" width="3" height="1" fill="#777"/>
<rect x="831" y="350" width="3" height="1" fill="#777"/>
<rect x="831" y="411" width="3" height="1" fill="#777"/>
<rect x="831" y="459" width="3" height="1" fill="#777"/>
<rect x="831" y="501" width="3" height="1" fill="#777"/>
<rect x="18" y="544" width="1" height="4" fill="#777"/>
<rect x="155" y="544" width="1" height="4" fill="#777"/>
<rect x="292" y="544" width="1" height="4" fill="#777"/>
<rect x="434" y="544" width="1" height="4" fill="#777"/>
<rect x="566" y="544" width="1" height="4" fill="#777"/>
<rect x="708" y="544" width="1" height="4" fill="#777"/>
<rect x="79" y="544" width="1" height="4" fill="#777"/>
<rect x="219" y="544" width="1" height="4" fill="#777"/>
<rect x="353" y="544" width="1" height="4" fill="#777"/>
<rect x="495" y="544" width="1" height="4" fill="#777"/>
<rect x="629" y="544" width="1" height="4" fill="#777"/>
<rect x="769" y="544" width="1" height="4" fill="#777"/>
</g>
<g font-family="'Liberation Sans', Arial, sans-serif" font-size="10" letter-spacing="0.35" fill="#2e2e2e" style="text-rendering:geometricPrecision">
<text x="835.4" y="111.1">2800</text>
<text x="835.4" y="171.1">2700</text>
<text x="835.4" y="232.1">2600</text>
<text x="835.4" y="293.1">2500</text>
<text x="835.4" y="353.1">2400</text>
<text x="835.4" y="414.1">2300</text>
<text x="835.4" y="462.1">70</text>
<text x="835.4" y="504.1">30</text>
</g>
<g font-family="'Liberation Sans', Arial, sans-serif" font-size="12" fill="#555" text-anchor="middle">
<text x="18.5" y="559.3">Aug</text>
<text x="79.5" y="559.3">14</text>
<text x="155.5" y="559.3">Sept</text>
<text x="219.5" y="559.3">14</text>
<text x="292.5" y="559.3">Oct</text>
<text x="353.5" y="559.3">14</text>
<text x="434.5" y="559.3">Nov</text>
<text x="495.5" y="559.3">14</text>
<text x="566.5" y="559.3">Dec</text>
<text x="629.5" y="559.3">14</text>
<text x="708.5" y="559.3">2025</text>
<text x="769.5" y="559.3">14</text>
</g>
<path d="M822,172 L829.5,164.2 L874.5,164.2 Q876.5,164.2 876.5,166.2 L876.5,177.8 Q876.5,179.8 874.5,179.8 L829.5,179.8 Z" fill="#ffd700"/>
<path d="M822,176.8 L829.5,169.1 L874.5,169.1 Q876.5,169.1 876.5,171.1 L876.5,182.6 Q876.5,184.6 874.5,184.6 L829.5,184.6 Z" fill="#625cab"/>
<text x="836" y="180.2" font-family="'Liberation Sans', Arial, sans-serif" font-size="10" letter-spacing="0.32" fill="#fff" stroke="#fff" stroke-width="0.42" style="text-rendering:geometricPrecision">2686.25</text>
<path d="M822,204.4 L829.5,196.7 L874.5,196.7 Q876.5,196.7 876.5,198.7 L876.5,210.2 Q876.5,212.2 874.5,212.2 L829.5,212.2 Z" fill="#00fccb"/>
<text x="836" y="207.8" font-family="'Liberation Sans', Arial, sans-serif" font-size="10" letter-spacing="0.32" fill="#000" stroke="#000" stroke-width="0.42" style="text-rendering:geometricPrecision">2640.09</text>
<path d="M822,236.9 L829.5,229.2 L874.5,229.2 Q876.5,229.2 876.5,231.2 L876.5,242.7 Q876.5,244.7 874.5,244.7 L829.5,244.7 Z" fill="#ffd700"/>
<text x="836" y="240.3" font-family="'Liberation Sans', Arial, sans-serif" font-size="10" letter-spacing="0.32" fill="#000" stroke="#000" stroke-width="0.42" style="text-rendering:geometricPrecision">2586.43</text>
<path d="M822,469.2 L829.5,461.7 L863,461.7 Q865,461.7 865,463.7 L865,474.7 Q865,476.7 863,476.7 L829.5,476.7 Z" fill="#000"/>
<text x="836" y="472.6" font-family="'Liberation Sans', Arial, sans-serif" font-size="10" letter-spacing="0.32" fill="#fff" stroke="#fff" stroke-width="0.42" style="text-rendering:geometricPrecision">60.62</text>
</svg>
<div class="legend" style="left:3px;top:346px;width:114.5px;height:23.5px;"><span class="lb" style="left:5.5px;top:6.7px">VWAP</span><span class="lp" style="left:39px;top:6.7px">20 1 2 3</span>
<svg width="114" height="24" style="position:absolute;left:0;top:0"><rect x="86" y="7.2" width="2.5" height="11.6" fill="#999" transform="rotate(0 87.2 13)"/><rect x="86" y="7.2" width="2.5" height="11.6" fill="#999" transform="rotate(45 87.2 13)"/><rect x="86" y="7.2" width="2.5" height="11.6" fill="#999" transform="rotate(90 87.2 13)"/><rect x="86" y="7.2" width="2.5" height="11.6" fill="#999" transform="rotate(135 87.2 13)"/><circle cx="87.2" cy="13" r="4.1" fill="#999"/><circle cx="87.2" cy="13" r="2" fill="#fff"/> <g stroke="#999" stroke-width="2.6"><line x1="100.4" y1="9.3" x2="108" y2="16.9"/><line x1="108" y1="9.3" x2="100.4" y2="16.9"/></g></svg></div>
<div class="legend" style="left:119px;top:346px;width:132px;height:23.5px;"><span class="lb" style="left:6.4px;top:6.7px">AUTO TREND</span><span class="lp" style="left:75.6px;top:6.7px">3 3 4</span>
<svg width="132" height="24" style="position:absolute;left:0;top:0"><rect x="109.8" y="7.2" width="2.5" height="11.6" fill="#999" transform="rotate(0 111 13)"/><rect x="109.8" y="7.2" width="2.5" height="11.6" fill="#999" transform="rotate(45 111 13)"/><rect x="109.8" y="7.2" width="2.5" height="11.6" fill="#999" transform="rotate(90 111 13)"/><rect x="109.8" y="7.2" width="2.5" height="11.6" fill="#999" transform="rotate(135 111 13)"/><circle cx="111" cy="13" r="4.1" fill="#999"/><circle cx="111" cy="13" r="2" fill="#fff"/> <g stroke="#999" stroke-width="2.6"><line x1="124.2" y1="9.3" x2="131.8" y2="16.9"/><line x1="131.8" y1="9.3" x2="124.2" y2="16.9"/></g></svg></div>
<div class="legend" style="left:3px;top:431px;width:75px;height:21.5px;"><span class="lb" style="left:5.5px;top:3.2px;letter-spacing:-0.55px">RSI</span><span class="lp" style="left:24.5px;top:3.2px">14</span>
<svg width="75" height="22" style="position:absolute;left:0;top:0"><rect x="45.8" y="4.1" width="2.5" height="11.6" fill="#999" transform="rotate(0 47 9.9)"/><rect x="45.8" y="4.1" width="2.5" height="11.6" fill="#999" transform="rotate(45 47 9.9)"/><rect x="45.8" y="4.1" width="2.5" height="11.6" fill="#999" transform="rotate(90 47 9.9)"/><rect x="45.8" y="4.1" width="2.5" height="11.6" fill="#999" transform="rotate(135 47 9.9)"/><circle cx="47" cy="9.9" r="4.1" fill="#999"/><circle cx="47" cy="9.9" r="2" fill="#fff"/> <g stroke="#999" stroke-width="2.6"><line x1="60.5" y1="6.1" x2="68.1" y2="13.7"/><line x1="68.1" y1="6.1" x2="60.5" y2="13.7"/></g></svg></div>
<div id="titlebar">
<svg class="logo" viewBox="0 0 22 22" width="22" height="22"><rect width="22" height="22" fill="#fdfdfd"/><g stroke="#e4e4e4" stroke-width="1"><line x1="2" y1="2.8" x2="20" y2="2.8"/><line x1="2" y1="6.6" x2="20" y2="6.6"/><line x1="2" y1="10.4" x2="20" y2="10.4"/><line x1="2" y1="14.4" x2="20" y2="14.4"/><line x1="2" y1="18.4" x2="20" y2="18.4"/></g><polyline points="2.6,17.6 7.6,7.8 12.3,12.9 18.7,4.9" fill="none" stroke="#118797" stroke-width="1.8"/></svg>
<div class="name">SPOT, GOLD</div>
<svg class="ic" style="left:0" width="884" height="34" viewBox="0 0 884 34">
<g fill="none" stroke="#e0e0e0" stroke-width="1.5"><circle cx="143" cy="14.5" r="4.3"/><line x1="146.2" y1="17.8" x2="151" y2="22.6" stroke-width="1.8"/></g>
<rect x="819" y="21" width="13" height="2" fill="#ddd"/>
<g fill="none" stroke="#ccc" stroke-width="1.4"><rect x="841.8" y="13.8" width="8.6" height="8.6"/><line x1="846" y1="18" x2="854" y2="18"/><line x1="853" y1="8" x2="853" y2="14"/><line x1="850" y1="11" x2="856" y2="11"/></g>
<polygon points="852.5,15.5 855.8,18 852.5,20.5" fill="#ccc"/>
<g stroke="#ccc" stroke-width="1.3"><line x1="864.5" y1="8.3" x2="878.7" y2="22.7"/><line x1="878.7" y1="8.3" x2="864.5" y2="22.7"/></g>
</svg>
</div>
<div id="toolbar">
<div class="menu" style="left:10px">Daily</div><div class="caret" style="left:46.5px"></div>
<div class="menu" style="left:76.5px">Technical</div><div class="caret" style="left:141.5px"></div>
<div class="menu" style="left:171px">Display</div><div class="caret" style="left:222.5px"></div>
<div class="menu" style="left:252px">More</div><div class="caret" style="left:289.5px"></div>
<svg width="884" height="38" viewBox="0 34 884 38">
<g fill="#333">
<path d="M321,48.2 q0,-1.2 1.2,-1.2 h3.6 l1.6,1.6 h5.2 q1.2,0 1.2,1.2 v1.4 h-9.2 q-1,0 -1.5,1 l-2.1,4.6 z" fill="none" stroke="#444" stroke-width="1"/>
<path d="M324.6,52.2 h11.6 l-3,7 h-11.6 z"/>
<path d="M356.8,45.5 h10 l3.2,3.2 v10.5 q0,1.6 -1.6,1.6 h-11.6 q-1.6,0 -1.6,-1.6 v-12.1 q0,-1.6 1.6,-1.6 z M357.8,47.5 v4.2 h8.4 v-4.2 z M357.6,55 v4.2 h10.6 v-4.2 z" fill-rule="evenodd"/>
<rect x="363.4" y="48" width="1.6" height="3"/>
</g>
<rect x="388" y="52" width="13" height="3" fill="#111"/>
<rect x="420" y="52" width="13" height="3" fill="#111"/>
<rect x="425" y="47" width="3" height="13" fill="#111"/>
</svg>
<div class="cp">CURRENT PRICE:</div>
<div class="btn" id="sell"><span style="left:14.5px">2685.9<small>5</small></span>
<svg width="84" height="24" style="position:absolute;left:0;top:0"><path d="M7.5,1 h4.4 v4.7 h2.7 l-4.9,5.2 l-4.9,-5.2 h2.7 z" fill="#8f1524"/></svg></div>
<div class="btn" id="buy"><span style="left:14.5px">2686.5<small>5</small></span>
<svg width="83" height="24" style="position:absolute;left:0;top:0"><path d="M72.2,10.8 h4.4 v-4.7 h2.7 l-4.9,-5.2 l-4.9,5.2 h2.7 z" fill="#0d5f6c"/></svg></div>
</div>
</body>
</html>
